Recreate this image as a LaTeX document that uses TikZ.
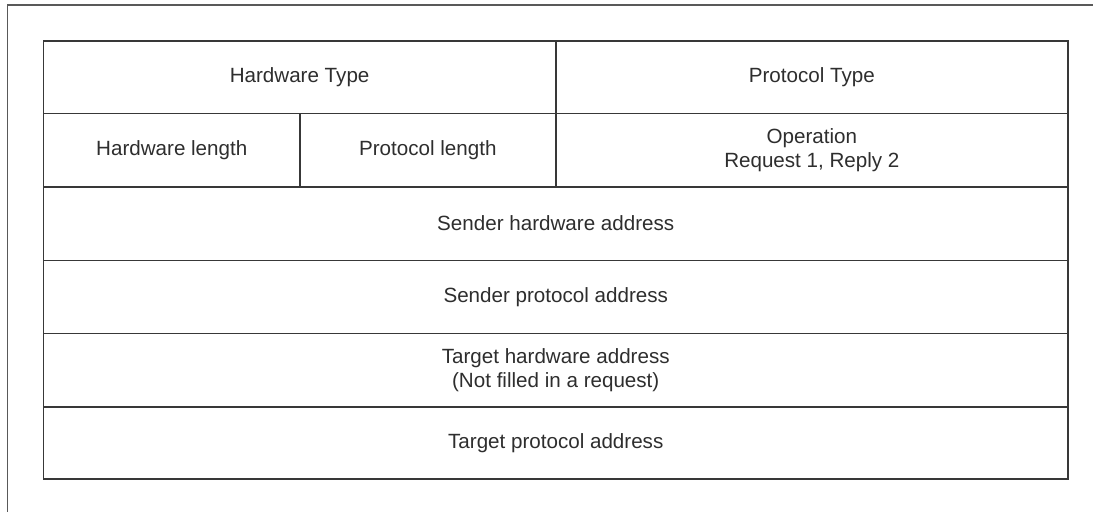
\documentclass[tikz,border=0pt]{standalone}
\usepackage{fontspec}
\setmainfont{Liberation Sans}
\tikzset{
  cell/.style={draw=black!78, line width=1.7pt, rectangle, inner sep=0pt, outer sep=0pt,
    text=black!82, font=\fontsize{20.6}{24.5}\selectfont, align=center},
  frame/.style={draw=black!65, line width=1.5pt}
}
\newcommand{\cellat}[7]{% name, x1, y1, x2, y2, text
  \node[cell, minimum width={#4-#2}, minimum height={#5-#3}] (#1) at ({(#2+#4)/2},{(#3+#5)/2}) {#6#7};}
\begin{document}
\begin{tikzpicture}[x=1pt,y=-1pt]
\useasboundingbox (0,0) rectangle (1093,512);
\fill[white] (0,0) rectangle (1093,512);
\coordinate (ftop) at (1093,5);
\coordinate (fcorner) at (7.5,5);
\coordinate (fbot) at (7.5,512);
\draw[frame] (ftop) -- (fcorner) -- (fbot);
\cellat{hwtype}{43.5}{41}{555.7}{113.5}{Hardware Type}{}
\cellat{prtype}{555.7}{41}{1068}{113.5}{Protocol Type}{}
\cellat{hwlen}{43.5}{113.5}{300}{186.7}{Hardware length}{}
\cellat{prlen}{300}{113.5}{555.7}{186.7}{Protocol length}{}
\cellat{oper}{555.7}{113.5}{1068}{186.7}{Operation\\Request 1, Reply 2}{}
\cellat{sha}{43.5}{186.7}{1068}{260.5}{Sender hardware address}{}
\cellat{spa}{43.5}{260.5}{1068}{333.5}{Sender protocol address}{}
\cellat{tha}{43.5}{333.5}{1068}{407.3}{Target hardware address\\(Not filled in a request)}{}
\cellat{tpa}{43.5}{407.3}{1068}{479.3}{Target protocol address}{}
\end{tikzpicture}
\end{document}
